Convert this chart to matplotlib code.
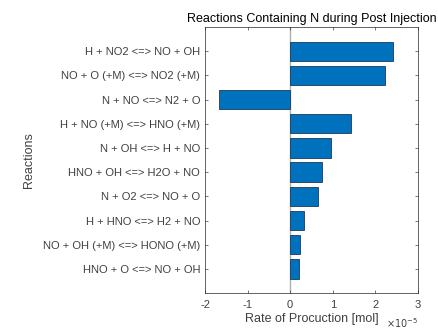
import numpy as np
from matplotlib import pyplot as plt
from matplotlib.ticker import FuncFormatter

# reactions and their rate of production (mol)
reactions = ["H + NO2 <=> NO + OH",
             "NO + O (+M) <=> NO2 (+M)",
             "N + NO <=> N2 + O",
             "H + NO (+M) <=> HNO (+M)",
             "N + OH <=> H + NO",
             "HNO + OH <=> H2O + NO",
             "N + O2 <=> NO + O",
             "H + HNO <=> H2 + NO",
             "NO + OH (+M) <=> HONO (+M)",
             "HNO + O <=> NO + OH"]
rates = np.array([2.42, 2.23, -1.67, 1.43, 0.96, 0.75, 0.66, 0.33, 0.23, 0.21]) * 1e-5

plt.rcParams['font.family'] = ['Liberation Sans', 'DejaVu Sans']
plt.rcParams['font.size'] = 8
plt.rcParams['axes.unicode_minus'] = False

fig = plt.figure(figsize=(4.39, 3.30), dpi=100)
ax = fig.add_axes([0.467, 0.112, 0.485, 0.806])

pos = np.arange(1, len(reactions) + 1)
ax.barh(pos, rates, height=0.8, color="#0072BD", edgecolor="#1a3a5c", linewidth=0.6, zorder=2)
ax.axvline(0, color="#b0b0b0", linewidth=1, zorder=1)

ax.set_ylim(11, 0)
ax.set_xlim(-2e-5, 3e-5)
ax.set_yticks(pos)
ax.set_yticklabels(reactions)
ax.set_xticks(np.arange(-2, 4) * 1e-5)

# MATLAB style: plain numbers on ticks, exponent shown separately
ax.xaxis.set_major_formatter(FuncFormatter(lambda v, _: f"{round(v * 1e5):d}"))
ax.text(1.0, -0.112, r"$\times10^{-5}$", transform=ax.transAxes, ha="right", va="center",
        fontsize=7, color="#404040")

ax.tick_params(direction="in", length=2.5, width=0.5, colors="#404040",
               top=True, right=True, labelsize=8)
ax.tick_params(axis="x", pad=5)
for s in ax.spines.values():
    s.set_color("#262626")
    s.set_linewidth(0.5)

ax.set_xlabel("Rate of Procuction [mol]", color="#404040", fontsize=9, labelpad=2)
ax.set_ylabel("Reactions", color="#404040", fontsize=9, labelpad=6)
ax.set_title("Reactions Containing N during Post Injection", fontsize=9, pad=4)

plt.savefig("out.png", dpi=100)
